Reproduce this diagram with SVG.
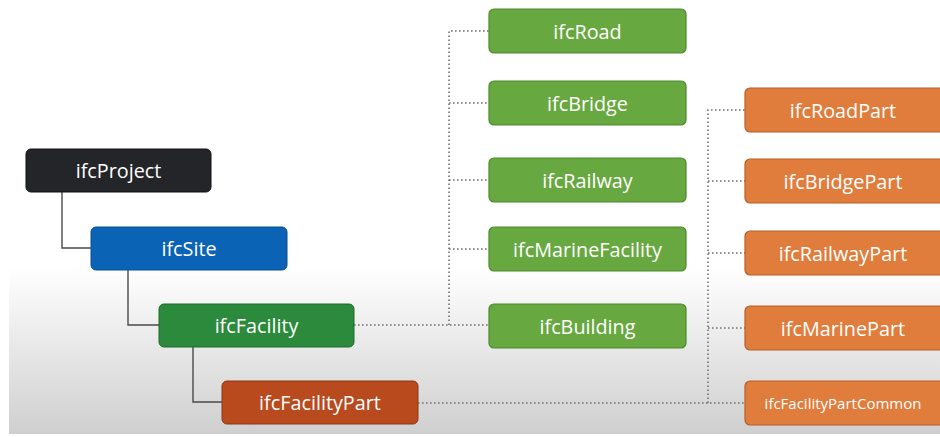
<svg xmlns="http://www.w3.org/2000/svg" width="940" height="437" viewBox="0 0 940 437">
<defs>
<linearGradient id="bg" x1="0" y1="0" x2="0" y2="1">
<stop offset="0" stop-color="#ffffff"/>
<stop offset="1" stop-color="#cfcfcf"/>
</linearGradient>
<style>
.n text{font-family:"Open Sans","DejaVu Sans",sans-serif;font-size:19.8px;fill:#ffffff;text-anchor:middle;dominant-baseline:central}
.g rect{fill:#68a840;stroke:#4c8a2c;stroke-width:1.2}
.o rect{fill:#e07d3c;stroke:#b85e26;stroke-width:1.2}
.solid{fill:none;stroke:#4a4a4a;stroke-width:1.4}
.dot{fill:none;stroke:#707070;stroke-width:1.6;stroke-dasharray:1.6 2.4}
</style>
</defs>
<rect width="940" height="437" fill="#ffffff"/>
<rect x="9" y="268" width="931" height="166" fill="url(#bg)"/>
<g id="connectors">
<path class="solid" d="M62 192 V248 H91"/>
<path class="solid" d="M128 270 V325 H159"/>
<path class="solid" d="M193 347 V402 H222"/>
<path class="dot" d="M354 325 H489"/>
<path class="dot" d="M449 325 V31 H489"/>
<path class="dot" d="M449 103 H489"/>
<path class="dot" d="M449 180 H489"/>
<path class="dot" d="M449 249 H489"/>
<path class="dot" d="M418 403 H745"/>
<path class="dot" d="M708 403 V110 H745"/>
<path class="dot" d="M708 181 H745"/>
<path class="dot" d="M708 253 H745"/>
<path class="dot" d="M708 328 H745"/>
</g>
<g id="ifcProject" class="n"><rect x="26" y="149" width="185" height="43" rx="5" fill="#232528" stroke="#111"/><text x="118.5" y="170.5">ifcProject</text></g>
<g id="ifcSite" class="n"><rect x="91" y="227" width="196" height="43" rx="5" fill="#0a63b5" stroke="#08508f"/><text x="189" y="248.5">ifcSite</text></g>
<g id="ifcFacility" class="n"><rect x="159" y="304" width="195" height="43" rx="5" fill="#2b8a3c" stroke="#1f6a2c"/><text x="256.5" y="325.5">ifcFacility</text></g>
<g id="ifcFacilityPart" class="n"><rect x="222" y="381" width="196" height="43" rx="5" fill="#b84a1e" stroke="#8e3614"/><text x="320" y="402.5">ifcFacilityPart</text></g>
<g id="ifcRoad" class="n g"><rect x="489" y="9" width="197" height="44" rx="5"/><text x="587.5" y="31">ifcRoad</text></g>
<g id="ifcBridge" class="n g"><rect x="489" y="81" width="197" height="44" rx="5"/><text x="587.5" y="103">ifcBridge</text></g>
<g id="ifcRailway" class="n g"><rect x="489" y="158" width="197" height="44" rx="5"/><text x="587.5" y="180">ifcRailway</text></g>
<g id="ifcMarineFacility" class="n g"><rect x="489" y="227" width="197" height="44" rx="5"/><text x="587.5" y="249">ifcMarineFacility</text></g>
<g id="ifcBuilding" class="n g"><rect x="489" y="304" width="197" height="44" rx="5"/><text x="587.5" y="326">ifcBuilding</text></g>
<g id="ifcRoadPart" class="n o"><rect x="745" y="88" width="200" height="44" rx="5"/><text x="843" y="110">ifcRoadPart</text></g>
<g id="ifcBridgePart" class="n o"><rect x="745" y="159" width="200" height="44" rx="5"/><text x="843" y="181">ifcBridgePart</text></g>
<g id="ifcRailwayPart" class="n o"><rect x="745" y="231" width="200" height="44" rx="5"/><text x="843" y="253">ifcRailwayPart</text></g>
<g id="ifcMarinePart" class="n o"><rect x="745" y="306" width="200" height="44" rx="5"/><text x="843" y="328">ifcMarinePart</text></g>
<g id="ifcFacilityPartCommon" class="n o"><rect x="745" y="381" width="200" height="44" rx="5"/><text x="843" y="403" style="font-size:15px">ifcFacilityPartCommon</text></g>
</svg>
